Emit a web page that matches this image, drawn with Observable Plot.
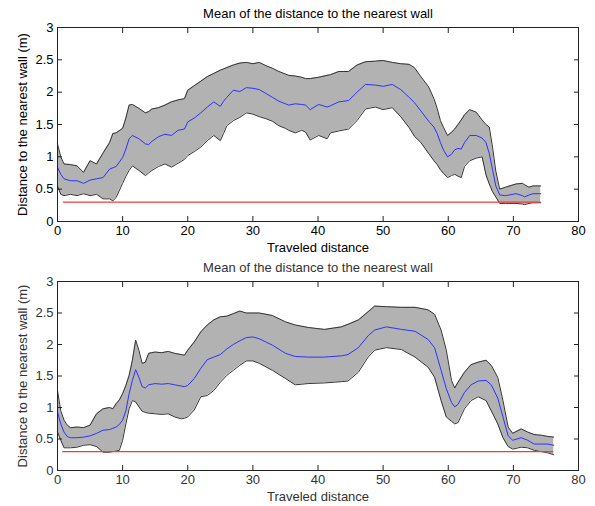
<!DOCTYPE html>
<html><head><meta charset="utf-8">
<script src="https://cdn.jsdelivr.net/npm/d3@7"></script>
<script src="https://cdn.jsdelivr.net/npm/@observablehq/plot@0.6"></script>
<style>
body{margin:0;background:#fff;}
#chart svg{display:block;}
</style></head><body><div id="chart"></div>
<script>
const title = "Mean of the distance to the nearest wall";
const xLabel = "Traveled distance";
const yLabel = "Distance to the nearest wall (m)";
const xTicks = [0,10,20,30,40,50,60,70,80];
const yTicks = [0,0.5,1,1.5,2,2.5,3];
const threshold = 0.3;

// top chart
const topX = [0,0.5,1,2,3,4,5,6,7,8,8.5,9,10,10.5,11,11.5,12.5,13.5,14,14.5,15.5,16.5,17.5,18.5,19.5,20,21,22,23,24,25,25.5,26,27,28,29,30,31,32,33,34,35,35.5,36.5,37.5,38.1,38.8,40.1,41.4,41.9,43.2,44.7,46,47.3,48.8,50,51.4,52.7,54,54.8,55.8,57,57.8,58.3,58.8,59.3,59.9,60.5,61,61.5,62,62.5,63.3,64.3,65.2,65.8,66.3,66.8,67.3,67.9,68.8,70.4,71.4,71.7,72.4,73,74.2];
const topUpper = [1.20,1.00,0.89,0.88,0.86,0.76,0.94,0.89,1.06,1.22,1.36,1.37,1.44,1.60,1.80,1.81,1.75,1.68,1.70,1.74,1.76,1.80,1.85,1.88,1.90,2.03,2.10,2.17,2.24,2.29,2.34,2.36,2.38,2.42,2.45,2.46,2.44,2.46,2.41,2.37,2.32,2.28,2.26,2.25,2.23,2.21,2.21,2.23,2.26,2.27,2.32,2.32,2.42,2.47,2.48,2.49,2.46,2.44,2.43,2.38,2.24,2.08,1.90,1.75,1.56,1.45,1.33,1.38,1.43,1.50,1.57,1.65,1.73,1.69,1.57,1.50,1.46,1.15,0.78,0.50,0.53,0.58,0.59,0.57,0.53,0.55,0.55];
const topMean = [0.84,0.73,0.66,0.63,0.63,0.59,0.64,0.66,0.68,0.81,0.83,0.85,0.99,1.12,1.28,1.33,1.28,1.20,1.19,1.24,1.31,1.35,1.33,1.41,1.43,1.54,1.60,1.68,1.77,1.85,1.78,1.86,1.92,2.03,2.01,2.07,2.06,2.04,1.98,1.92,1.86,1.82,1.80,1.82,1.81,1.80,1.73,1.81,1.77,1.79,1.85,1.87,2.00,2.12,2.11,2.09,2.12,2.04,1.92,1.84,1.71,1.55,1.46,1.36,1.22,1.10,1.00,1.04,1.11,1.13,1.12,1.22,1.33,1.33,1.29,1.22,1.05,0.80,0.55,0.41,0.40,0.43,0.40,0.38,0.41,0.43,0.43];
const topLower = [0.55,0.42,0.40,0.42,0.40,0.43,0.40,0.42,0.35,0.35,0.32,0.37,0.59,0.70,0.79,0.86,0.79,0.71,0.75,0.79,0.85,0.89,0.84,0.90,0.96,1.02,1.08,1.15,1.25,1.33,1.25,1.36,1.48,1.56,1.61,1.68,1.66,1.62,1.59,1.55,1.48,1.44,1.41,1.37,1.41,1.38,1.26,1.33,1.28,1.37,1.40,1.43,1.56,1.74,1.77,1.73,1.76,1.62,1.45,1.32,1.22,1.05,0.94,0.88,0.80,0.74,0.68,0.71,0.73,0.70,0.68,0.85,0.94,0.98,1.00,0.72,0.58,0.46,0.38,0.28,0.28,0.28,0.27,0.26,0.28,0.29,0.29];
const topThresholdRange = [0.9, 74.2];

// bottom chart
const botX = [0,0.5,1,1.5,2,3,4,5,6,7,8,8.5,9,9.5,10,10.5,11,11.5,12,12.5,13,13.5,14,15,16,17,18,19,19.5,20,21,22,23,24,25,26,27,28,29,30,31,33,35,36.5,38.5,41,43.6,44.6,46.2,47.7,48.7,50.5,52.8,54.9,56.9,57.9,58.9,59.7,60.5,61,61.5,62.5,63.5,64.6,65.8,66.6,67.6,68.4,69.2,69.9,71.2,72.2,73.2,74.3,75.3,76.2];
const botUpper = [1.27,0.95,0.80,0.72,0.68,0.69,0.68,0.72,0.90,0.98,1.00,0.98,1.06,1.12,1.22,1.35,1.51,1.75,2.07,1.91,1.70,1.72,1.86,1.88,1.87,1.89,1.86,1.84,1.83,1.91,2.04,2.20,2.31,2.39,2.44,2.45,2.49,2.53,2.50,2.50,2.50,2.46,2.36,2.31,2.27,2.24,2.28,2.32,2.39,2.52,2.61,2.60,2.59,2.59,2.55,2.48,2.23,1.91,1.43,1.31,1.40,1.56,1.68,1.72,1.75,1.67,1.48,1.11,0.69,0.59,0.66,0.61,0.57,0.56,0.54,0.53];
const botMean = [0.93,0.74,0.61,0.54,0.52,0.52,0.53,0.55,0.59,0.64,0.65,0.67,0.69,0.73,0.80,0.95,1.22,1.43,1.60,1.48,1.33,1.31,1.36,1.38,1.37,1.38,1.36,1.34,1.33,1.35,1.46,1.62,1.76,1.80,1.84,1.93,2.00,2.06,2.11,2.12,2.09,1.99,1.86,1.81,1.80,1.80,1.82,1.84,1.95,2.14,2.23,2.28,2.24,2.21,2.08,1.95,1.59,1.30,1.08,1.01,1.05,1.24,1.36,1.42,1.43,1.36,1.15,0.85,0.55,0.48,0.52,0.48,0.42,0.42,0.42,0.40];
const botLower = [0.61,0.48,0.36,0.36,0.36,0.37,0.40,0.41,0.38,0.29,0.29,0.30,0.31,0.32,0.48,0.74,0.98,1.11,1.09,1.01,0.94,0.92,0.91,0.90,0.89,0.90,0.85,0.82,0.83,0.85,0.96,1.17,1.19,1.27,1.40,1.51,1.59,1.67,1.74,1.74,1.70,1.59,1.46,1.36,1.38,1.39,1.41,1.42,1.56,1.80,1.91,1.95,1.92,1.80,1.64,1.48,1.11,0.85,0.78,0.74,0.76,0.98,1.11,1.17,1.11,0.95,0.74,0.52,0.38,0.34,0.37,0.36,0.32,0.30,0.28,0.25];
const botThresholdRange = [0.8, 76.2];

function chart({x, upper, mean, lower, thr, height, marginTop, marginBottom, ink}) {
  const rows = x.map((d, i) => ({x: d, upper: upper[i], mean: mean[i], lower: lower[i]}));
  const fmt = d => String(d);
  return Plot.plot({
    width: 595, height, marginTop, marginBottom, marginLeft: 57, marginRight: 17,
    style: {fontFamily: "'Liberation Sans', Arial, sans-serif", fontSize: "13px", color: ink, background: "white", overflow: "visible"},
    x: {domain: [0, 80]},
    y: {domain: [0, 3]},
    marks: [
      Plot.areaY(rows, {x: "x", y1: "lower", y2: "upper", fill: "#b2b2b2"}),
      Plot.lineY(rows, {x: "x", y: "upper", stroke: "#333", strokeWidth: 1}),
      Plot.lineY(rows, {x: "x", y: "lower", stroke: "#333", strokeWidth: 1}),
      Plot.lineY(rows, {x: "x", y: "mean", stroke: "#3030ff", strokeWidth: 1}),
      Plot.ruleY([threshold], {x1: thr[0], x2: thr[1], stroke: "#f23c3c", strokeWidth: 1.4}),
      Plot.frame({stroke: "#222"}),
      Plot.axisX(xTicks, {anchor: "bottom", tickSize: -5, tickPadding: 9, tickFormat: fmt, label: null, stroke: "#222", fill: ink}),
      Plot.axisX(xTicks, {anchor: "top", tickSize: -5, tickFormat: () => "", label: null, stroke: "#222"}),
      Plot.axisY(yTicks, {anchor: "left", tickSize: -5, tickPadding: 9, tickFormat: fmt, label: null, stroke: "#222", fill: ink}),
      Plot.axisY(yTicks, {anchor: "right", tickSize: -5, tickFormat: () => "", label: null, stroke: "#222"}),
      Plot.text([title], {frameAnchor: "top", dy: -14, textAnchor: "middle", lineAnchor: "middle", text: d => d, fill: ink, fontSize: 13}),
      Plot.text([xLabel], {frameAnchor: "bottom", dy: 26, textAnchor: "middle", lineAnchor: "middle", text: d => d, fill: ink, fontSize: 13}),
      Plot.text([yLabel], {frameAnchor: "left", dx: -35, rotate: -90, textAnchor: "middle", lineAnchor: "middle", text: d => d, fill: ink, fontSize: 13})
    ]
  });
}

const root = document.getElementById("chart");
root.append(chart({x: topX, upper: topUpper, mean: topMean, lower: topLower, thr: topThresholdRange, height: 250, marginTop: 27, marginBottom: 29, ink: "#000"}));
root.append(chart({x: botX, upper: botUpper, mean: botMean, lower: botLower, thr: botThresholdRange, height: 256, marginTop: 31, marginBottom: 36, ink: "#333"}));
</script>
</body></html>
